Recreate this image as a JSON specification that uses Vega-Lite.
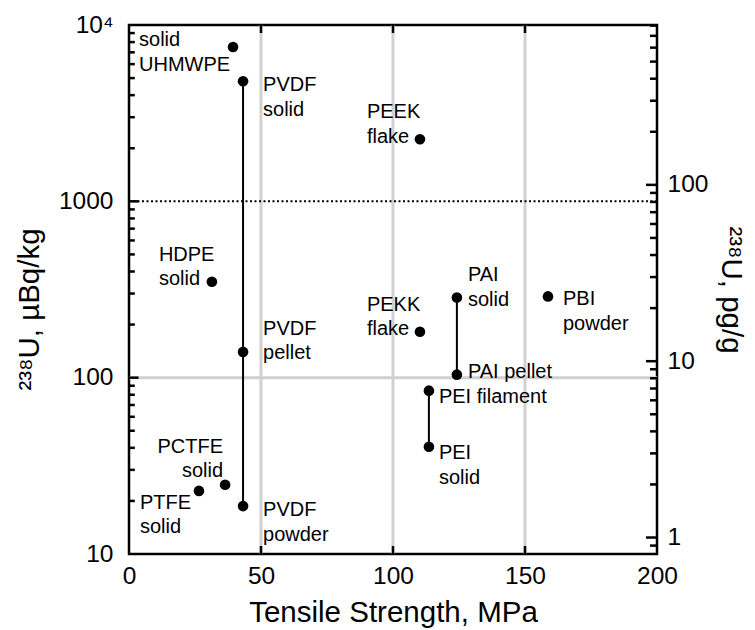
{
  "$schema": "https://vega.github.io/schema/vega-lite/v6.json",
  "width": 528,
  "height": 529,
  "autosize": "none",
  "padding": {"left": 129, "top": 25, "right": 98, "bottom": 76},
  "background": "white",
  "config": {
    "view": {"stroke": "black", "strokeWidth": 2.5},
    "font": "Liberation Sans",
    "axis": {
      "labelFont": "Liberation Sans", "labelFontSize": 24.5, "labelColor": "black",
      "titleFont": "Liberation Sans", "titleFontSize": 29.5, "titleFontWeight": "normal", "titleColor": "black",
      "ticks": false, "domain": false, "grid": false,
      "labelFlush": false, "labelOverlap": false
    },
    "text": {"font": "Liberation Sans", "fontSize": 20, "lineBreak": "\n", "lineHeight": 24.5, "color": "black"}
  },
  "datasets": {
    "pts": [
      {"name": "UHMWPE solid", "label": "solid\nUHMWPE", "ts": 39.4, "u": 7500, "group": null},
      {"name": "PVDF solid", "label": "PVDF\nsolid", "ts": 43.2, "u": 4800, "group": "PVDF"},
      {"name": "PEEK flake", "label": "PEEK\nflake", "ts": 110.2, "u": 2250, "group": null},
      {"name": "HDPE solid", "label": "HDPE\nsolid", "ts": 31.4, "u": 350, "group": null},
      {"name": "PVDF pellet", "label": "PVDF\npellet", "ts": 43.2, "u": 140, "group": "PVDF"},
      {"name": "PEKK flake", "label": "PEKK\nflake", "ts": 110.2, "u": 182, "group": null},
      {"name": "PAI solid", "label": "PAI\nsolid", "ts": 124.2, "u": 285, "group": "PAI"},
      {"name": "PBI powder", "label": "PBI\npowder", "ts": 158.7, "u": 289, "group": null},
      {"name": "PAI pellet", "label": "PAI pellet", "ts": 124.2, "u": 104, "group": "PAI"},
      {"name": "PEI filament", "label": "PEI filament", "ts": 113.6, "u": 84.4, "group": "PEI"},
      {"name": "PEI solid", "label": "PEI\nsolid", "ts": 113.6, "u": 40.6, "group": "PEI"},
      {"name": "PCTFE solid", "label": "PCTFE\nsolid", "ts": 36.4, "u": 24.7, "group": null},
      {"name": "PTFE solid", "label": "PTFE\nsolid", "ts": 26.5, "u": 22.8, "group": null},
      {"name": "PVDF powder", "label": "PVDF\npowder", "ts": 43.2, "u": 18.7, "group": "PVDF"}
    ],
    "vgrid": [{"ts": 50}, {"ts": 100}, {"ts": 150}],
    "hgrid": [{"u": 100}],
    "ref": [{"u": 1000}],
    "ymaj": [{"u": 100}, {"u": 1000}],
    "ymin": [{"u": 20}, {"u": 30}, {"u": 40}, {"u": 50}, {"u": 60}, {"u": 70}, {"u": 80}, {"u": 90},
             {"u": 200}, {"u": 300}, {"u": 400}, {"u": 500}, {"u": 600}, {"u": 700}, {"u": 800}, {"u": 900},
             {"u": 2000}, {"u": 3000}, {"u": 4000}, {"u": 5000}, {"u": 6000}, {"u": 7000}, {"u": 8000}, {"u": 9000}],
    "pmaj": [{"pg": 1}, {"pg": 10}, {"pg": 100}],
    "pmin": [{"pg": 0.9}, {"pg": 2}, {"pg": 3}, {"pg": 4}, {"pg": 5}, {"pg": 6}, {"pg": 7}, {"pg": 8}, {"pg": 9},
             {"pg": 20}, {"pg": 30}, {"pg": 40}, {"pg": 50}, {"pg": 60}, {"pg": 70}, {"pg": 80}, {"pg": 90},
             {"pg": 200}, {"pg": 300}, {"pg": 400}, {"pg": 500}, {"pg": 600}, {"pg": 700}, {"pg": 800}],
    "xd": [{"ts": 0}],
    "yd": [{"u": 10}]
  },
  "layer": [
    {
      "data": {"name": "vgrid"},
      "mark": {"type": "rule", "color": "#d0d0d0", "strokeWidth": 3},
      "encoding": {"x": {"field": "ts", "type": "quantitative", "scale": {"domain": [0, 200], "nice": false}, "axis": null}}
    },
    {
      "data": {"name": "hgrid"},
      "mark": {"type": "rule", "color": "#d0d0d0", "strokeWidth": 3},
      "encoding": {"y": {"field": "u", "type": "quantitative", "scale": {"type": "log", "domain": [10, 10000], "nice": false}, "axis": null}}
    },
    {
      "data": {"name": "ref"},
      "mark": {"type": "rule", "color": "black", "strokeWidth": 2, "strokeDash": [2, 2.5]},
      "encoding": {"y": {"field": "u", "type": "quantitative", "scale": {"type": "log", "domain": [10, 10000], "nice": false}, "axis": null}}
    },
    {
      "data": {"name": "vgrid"},
      "mark": {"type": "rule", "color": "black", "strokeWidth": 2.5},
      "encoding": {
        "x": {"field": "ts", "type": "quantitative", "scale": {"domain": [0, 200], "nice": false}, "axis": null},
        "y": {"datum": 10, "type": "quantitative", "scale": {"type": "log", "domain": [10, 10000], "nice": false}, "axis": null},
        "y2": {"datum": 11.1}
      }
    },
    {
      "data": {"name": "vgrid"},
      "mark": {"type": "rule", "color": "black", "strokeWidth": 2.5},
      "encoding": {
        "x": {"field": "ts", "type": "quantitative", "scale": {"domain": [0, 200], "nice": false}, "axis": null},
        "y": {"datum": 10000, "type": "quantitative", "scale": {"type": "log", "domain": [10, 10000], "nice": false}, "axis": null},
        "y2": {"datum": 9006}
      }
    },
    {
      "data": {"name": "ymaj"},
      "mark": {"type": "rule", "color": "black", "strokeWidth": 2.5},
      "encoding": {
        "x": {"datum": 0, "type": "quantitative", "scale": {"domain": [0, 200], "nice": false}, "axis": null},
        "x2": {"datum": 3.6},
        "y": {"field": "u", "type": "quantitative", "scale": {"type": "log", "domain": [10, 10000], "nice": false}, "axis": null}
      }
    },
    {
      "data": {"name": "ymin"},
      "mark": {"type": "rule", "color": "black", "strokeWidth": 2.5},
      "encoding": {
        "x": {"datum": 0, "type": "quantitative", "scale": {"domain": [0, 200], "nice": false}, "axis": null},
        "x2": {"datum": 2.2},
        "y": {"field": "u", "type": "quantitative", "scale": {"type": "log", "domain": [10, 10000], "nice": false}, "axis": null}
      }
    },
    {
      "data": {"name": "pmaj"},
      "mark": {"type": "tick", "orient": "horizontal", "color": "black", "size": 22, "thickness": 2.5, "opacity": 1, "clip": true},
      "encoding": {
        "x": {"datum": 200, "type": "quantitative", "scale": {"domain": [0, 200], "nice": false}, "axis": null},
        "y": {"field": "pg", "type": "quantitative", "scale": {"type": "log", "domain": [0.80645, 806.45], "nice": false}, "axis": null}
      }
    },
    {
      "data": {"name": "pmin"},
      "mark": {"type": "tick", "orient": "horizontal", "color": "black", "size": 14, "thickness": 2.5, "opacity": 1, "clip": true},
      "encoding": {
        "x": {"datum": 200, "type": "quantitative", "scale": {"domain": [0, 200], "nice": false}, "axis": null},
        "y": {"field": "pg", "type": "quantitative", "scale": {"type": "log", "domain": [0.80645, 806.45], "nice": false}, "axis": null}
      }
    },
    {
      "data": {"name": "xd"},
      "mark": {"type": "point", "opacity": 0},
      "encoding": {
        "x": {"field": "ts", "type": "quantitative", "title": "Tensile Strength, MPa",
          "scale": {"domain": [0, 200], "nice": false},
          "axis": {"orient": "bottom", "values": [0, 50, 100, 150, 200], "labelPadding": 10, "titlePadding": 11}}
      }
    },
    {
      "data": {"name": "yd"},
      "mark": {"type": "point", "opacity": 0},
      "encoding": {
        "y": {"field": "u", "type": "quantitative", "title": "²³⁸U, µBq/kg",
          "scale": {"type": "log", "domain": [10, 10000], "nice": false},
          "axis": {"orient": "left", "values": [10, 100, 1000, 10000], "labelPadding": 16, "titlePadding": 14, "titleY": 284,
            "labelExpr": "datum.value == 10000 ? '10⁴' : format(datum.value, 'd')"}}
      }
    },
    {
      "data": {"name": "pmaj"},
      "mark": {"type": "point", "opacity": 0},
      "encoding": {
        "y": {"field": "pg", "type": "quantitative", "title": "²³⁸U, pg/g",
          "scale": {"type": "log", "domain": [0.80645, 806.45], "nice": false},
          "axis": {"orient": "right", "values": [1, 10, 100], "format": "d", "labelPadding": 10, "titlePadding": 8}}
      }
    },
    {
      "data": {"name": "pts"},
      "encoding": {
        "x": {"field": "ts", "type": "quantitative", "scale": {"domain": [0, 200], "nice": false}, "axis": null},
        "y": {"field": "u", "type": "quantitative", "scale": {"type": "log", "domain": [10, 10000], "nice": false}, "axis": null}
      },
      "layer": [
        {
          "transform": [{"filter": "datum.group != null"}],
          "mark": {"type": "line", "color": "black", "strokeWidth": 2},
          "encoding": {"detail": {"field": "group"}}
        },
        {
          "mark": {"type": "circle", "color": "black", "opacity": 1, "size": 113}
        },
        {
          "transform": [{"filter": {"field": "name", "oneOf": ["UHMWPE solid"]}}],
          "mark": {"type": "text", "align": "left", "baseline": "top", "dx": -94, "dy": -17},
          "encoding": {"text": {"field": "label"}}
        },
        {
          "transform": [{"filter": {"field": "name", "oneOf": ["PVDF solid", "PVDF powder"]}}],
          "mark": {"type": "text", "align": "left", "baseline": "top", "dx": 20, "dy": -6},
          "encoding": {"text": {"field": "label"}}
        },
        {
          "transform": [{"filter": {"field": "name", "oneOf": ["PVDF pellet"]}}],
          "mark": {"type": "text", "align": "left", "baseline": "top", "dx": 20, "dy": -33},
          "encoding": {"text": {"field": "label"}}
        },
        {
          "transform": [{"filter": {"field": "name", "oneOf": ["PAI solid"]}}],
          "mark": {"type": "text", "align": "left", "baseline": "top", "dx": 11, "dy": -32},
          "encoding": {"text": {"field": "label"}}
        },
        {
          "transform": [{"filter": {"field": "name", "oneOf": ["PBI powder"]}}],
          "mark": {"type": "text", "align": "left", "baseline": "top", "dx": 15, "dy": -7},
          "encoding": {"text": {"field": "label"}}
        },
        {
          "transform": [{"filter": {"field": "name", "oneOf": ["PAI pellet"]}}],
          "mark": {"type": "text", "align": "left", "baseline": "top", "dx": 11, "dy": -13},
          "encoding": {"text": {"field": "label"}}
        },
        {
          "transform": [{"filter": {"field": "name", "oneOf": ["PEI filament", "PEI solid"]}}],
          "mark": {"type": "text", "align": "left", "baseline": "top", "dx": 10, "dy": -3.5},
          "encoding": {"text": {"field": "label"}}
        },
        {
          "transform": [{"filter": {"field": "name", "oneOf": ["PEEK flake", "PEKK flake", "HDPE solid"]}}],
          "mark": {"type": "text", "align": "left", "baseline": "top", "dx": -53, "dy": -37},
          "encoding": {"text": {"field": "label"}}
        },
        {
          "transform": [{"filter": {"field": "name", "oneOf": ["PCTFE solid"]}}],
          "mark": {"type": "text", "align": "right", "baseline": "top", "dx": -2, "dy": -48},
          "encoding": {"text": {"field": "label"}}
        },
        {
          "transform": [{"filter": {"field": "name", "oneOf": ["PTFE solid"]}}],
          "mark": {"type": "text", "align": "left", "baseline": "top", "dx": -59, "dy": 2},
          "encoding": {"text": {"field": "label"}}
        }
      ]
    }
  ],
  "resolve": {
    "scale": {"x": "independent", "y": "independent"},
    "axis": {"x": "independent", "y": "independent"}
  }
}
